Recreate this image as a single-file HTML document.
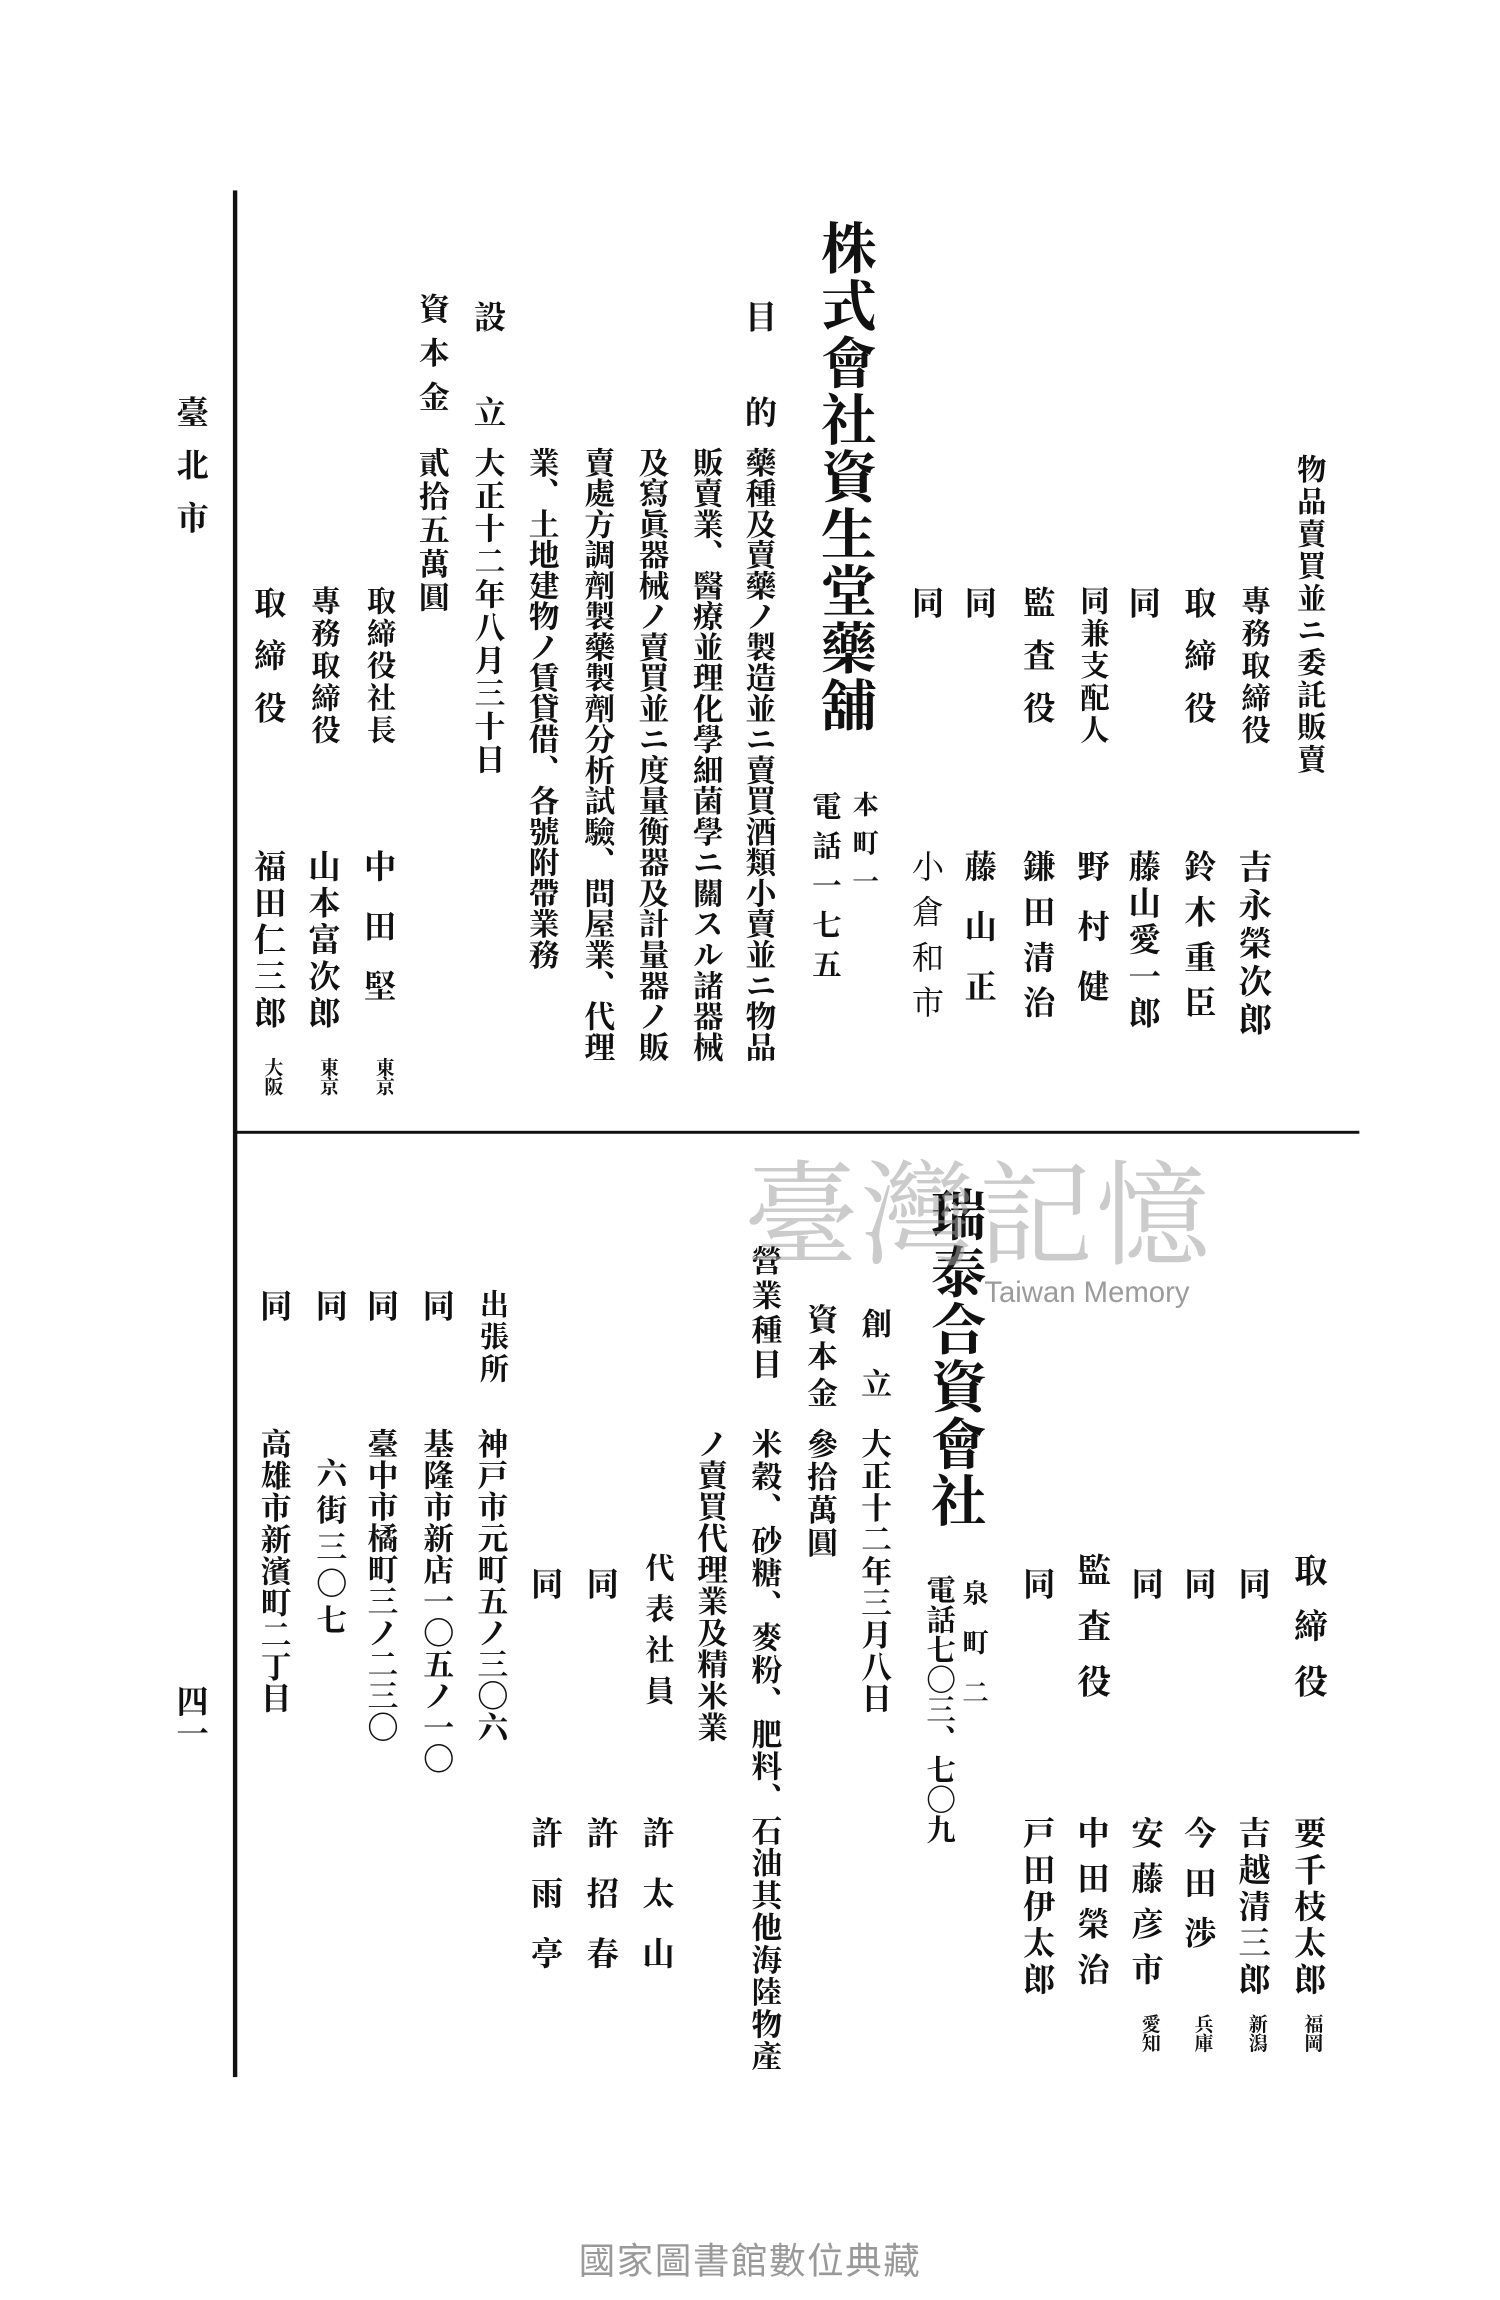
<!DOCTYPE html>
<html><head><meta charset="utf-8">
<style>
html,body{margin:0;padding:0;background:#fff;}
body{width:1500px;height:2300px;overflow:hidden;position:relative;}
#w{position:absolute;left:0;top:0;width:1024px;height:1568px;transform:scale(1.4648);transform-origin:0 0;}
.v{position:absolute;writing-mode:vertical-rl;line-height:1;white-space:nowrap;font-family:"Liberation Serif","Noto Serif CJK SC","Noto Sans CJK JP",serif;font-weight:700;color:#111;font-size:22px;transform:translateX(-50%);}
.s{font-size:13px;}
.ln{position:absolute;background:#111;}
</style></head><body><div id="w">
<div class="ln" style="left:159px;top:130px;width:3px;height:1288px"></div>
<div class="ln" style="left:160px;top:772px;width:768px;height:2px"></div>

<div class="v" style="left:130px;top:270px;letter-spacing:14px">臺北市</div>
<div class="v" style="left:130px;top:1150px">四一</div>

<!-- top -->
<div class="v" style="left:893px;top:310px;font-size:20px;letter-spacing:2px">物品賣買並ニ委託販賣</div>
<div class="v" style="left:855px;top:400px;font-size:20px;letter-spacing:2px">專務取締役</div>
<div class="v" style="left:855px;top:580px;font-size:23px;letter-spacing:3px">吉永榮次郎</div>
<div class="v" style="left:818px;top:400px;letter-spacing:14px">取締役</div>
<div class="v" style="left:818px;top:580px;letter-spacing:9px">鈴木重臣</div>
<div class="v" style="left:780px;top:400px">同</div>
<div class="v" style="left:780px;top:580px;letter-spacing:3px">藤山愛一郎</div>
<div class="v" style="left:745px;top:400px;font-size:20px;letter-spacing:2px">同兼支配人</div>
<div class="v" style="left:745px;top:580px;letter-spacing:19px">野村健</div>
<div class="v" style="left:708px;top:400px;letter-spacing:14px">監査役</div>
<div class="v" style="left:708px;top:580px;letter-spacing:9px">鎌田清治</div>
<div class="v" style="left:668px;top:400px">同</div>
<div class="v" style="left:668px;top:580px;letter-spacing:19px">藤山正</div>
<div class="v" style="left:632px;top:400px">同</div>
<div class="v" style="left:632px;top:580px;letter-spacing:9px;font-weight:400">小倉和市</div>
<div class="v" style="left:575px;top:150px;font-size:38px;letter-spacing:1px">株式會社資生堂藥舖</div>
<div class="v" style="left:590px;top:540px;font-size:18px;letter-spacing:8px">本町一</div>
<div class="v" style="left:562px;top:540px;font-size:20px;letter-spacing:7px">電話一七五</div>
<div class="v" style="left:518px;top:205px;letter-spacing:43px">目的</div>
<div class="v" style="left:518px;top:305px;font-size:21px">藥種及賣藥ノ製造並ニ賣買酒類小賣並ニ物品</div>
<div class="v" style="left:482px;top:305px;font-size:21px">販賣業、醫療並理化學細菌學ニ關スル諸器械</div>
<div class="v" style="left:445px;top:305px;font-size:21px">及寫眞器械ノ賣買並ニ度量衡器及計量器ノ販</div>
<div class="v" style="left:408px;top:305px;font-size:21px">賣處方調劑製藥製劑分析試驗、問屋業、代理</div>
<div class="v" style="left:370px;top:305px;font-size:21px">業、土地建物ノ賃貸借、各號附帶業務</div>
<div class="v" style="left:333px;top:205px;letter-spacing:43px">設立</div>
<div class="v" style="left:333px;top:305px;font-size:21px;letter-spacing:1.5px">大正十二年八月三十日</div>
<div class="v" style="left:295px;top:200px;font-size:21px;letter-spacing:9px">資本金</div>
<div class="v" style="left:295px;top:305px;font-size:21px;letter-spacing:2px">貳拾五萬圓</div>
<div class="v" style="left:258px;top:400px;font-size:20px;letter-spacing:2px">取締役社長</div>
<div class="v" style="left:258px;top:580px;letter-spacing:19px">中田堅</div>
<div class="v s" style="left:262px;top:722px">東京</div>
<div class="v" style="left:220px;top:400px;font-size:20px;letter-spacing:2px">專務取締役</div>
<div class="v" style="left:220px;top:580px;letter-spacing:3px">山本富次郎</div>
<div class="v s" style="left:224px;top:722px">東京</div>
<div class="v" style="left:183px;top:400px;letter-spacing:14px">取締役</div>
<div class="v" style="left:183px;top:580px;letter-spacing:3px">福田仁三郎</div>
<div class="v s" style="left:186px;top:722px">大阪</div>

<!-- bottom -->
<div class="v" style="left:893px;top:1060px;font-size:23px;letter-spacing:15px">取締役</div>
<div class="v" style="left:893px;top:1240px;letter-spacing:3px">要千枝太郎</div>
<div class="v s" style="left:896px;top:1375px">福岡</div>
<div class="v" style="left:855px;top:1070px">同</div>
<div class="v" style="left:855px;top:1240px;letter-spacing:3px">吉越清三郎</div>
<div class="v s" style="left:858px;top:1375px">新潟</div>
<div class="v" style="left:818px;top:1070px">同</div>
<div class="v" style="left:818px;top:1240px;letter-spacing:12px">今田渉</div>
<div class="v s" style="left:821px;top:1375px">兵庫</div>
<div class="v" style="left:782px;top:1070px">同</div>
<div class="v" style="left:782px;top:1240px;letter-spacing:9px">安藤彦市</div>
<div class="v s" style="left:785px;top:1375px">愛知</div>
<div class="v" style="left:745px;top:1060px;font-size:23px;letter-spacing:15px">監査役</div>
<div class="v" style="left:745px;top:1240px;letter-spacing:9px">中田榮治</div>
<div class="v" style="left:708px;top:1070px">同</div>
<div class="v" style="left:708px;top:1240px;letter-spacing:3px">戸田伊太郎</div>
<div class="v" style="left:650px;top:810px;font-size:38px;letter-spacing:1px">瑞泰合資會社</div>
<div class="v" style="left:665px;top:1078px;font-size:18px;letter-spacing:16px">泉町二</div>
<div class="v" style="left:640px;top:1075px;font-size:20px;letter-spacing:0.5px">電話七〇三、七〇九</div>
<div class="v" style="left:597px;top:893px;font-size:21px;letter-spacing:20px">創立</div>
<div class="v" style="left:597px;top:975px;font-size:21px;letter-spacing:0.7px">大正十二年三月八日</div>
<div class="v" style="left:560px;top:890px;font-size:21px;letter-spacing:4px">資本金</div>
<div class="v" style="left:560px;top:975px;font-size:21px;letter-spacing:1.5px">參拾萬圓</div>
<div class="v" style="left:522px;top:850px;font-size:21px;letter-spacing:2.5px">營業種目</div>
<div class="v" style="left:522px;top:975px;font-size:21px;letter-spacing:1px">米穀、砂糖、麥粉、肥料、石油其他海陸物產</div>
<div class="v" style="left:485px;top:975px;font-size:21px;letter-spacing:0.5px">ノ賣買代理業及精米業</div>
<div class="v" style="left:448px;top:1060px;font-size:20px;letter-spacing:8px">代表社員</div>
<div class="v" style="left:448px;top:1240px;letter-spacing:19px">許太山</div>
<div class="v" style="left:410px;top:1070px">同</div>
<div class="v" style="left:410px;top:1240px;letter-spacing:19px">許招春</div>
<div class="v" style="left:372px;top:1070px">同</div>
<div class="v" style="left:372px;top:1240px;letter-spacing:19px">許雨亭</div>
<div class="v" style="left:335px;top:880px;font-size:20px;letter-spacing:2px">出張所</div>
<div class="v" style="left:335px;top:975px;font-size:21px;letter-spacing:0.5px">神戸市元町五ノ三〇六</div>
<div class="v" style="left:298px;top:880px">同</div>
<div class="v" style="left:298px;top:975px;font-size:21px;letter-spacing:0.5px">基隆市新店一〇五ノ一〇</div>
<div class="v" style="left:260px;top:880px">同</div>
<div class="v" style="left:260px;top:975px;font-size:21px;letter-spacing:0.5px">臺中市橘町三ノ二三〇</div>
<div class="v" style="left:225px;top:880px">同</div>
<div class="v" style="left:225px;top:995px;font-size:21px;letter-spacing:4px">六街三〇七</div>
<div class="v" style="left:187px;top:880px">同</div>
<div class="v" style="left:187px;top:975px;font-size:21px;letter-spacing:0.7px">高雄市新濱町二丁目</div>

<!-- watermark -->
<div style="position:absolute;left:508px;top:785px;font-family:'Noto Serif CJK SC',serif;font-size:78px;line-height:1;color:rgba(160,160,160,0.55);letter-spacing:2px;white-space:nowrap">臺灣記憶</div>
<div style="position:absolute;left:672px;top:872px;font-family:'Liberation Sans',sans-serif;font-size:20px;color:rgba(130,130,130,0.8);white-space:nowrap">Taiwan Memory</div>

<div style="position:absolute;left:0;width:1024px;top:1524px;text-align:center;font-family:'Liberation Sans','Noto Sans CJK TC',sans-serif;font-size:25px;color:#999;letter-spacing:1px">國家圖書館數位典藏</div>
</div></body></html>
